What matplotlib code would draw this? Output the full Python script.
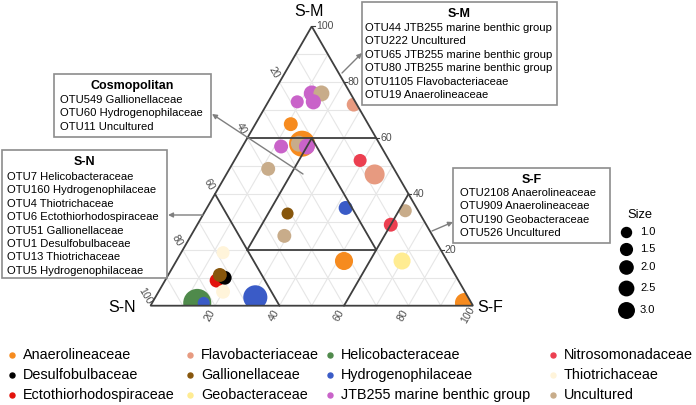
import numpy as np
import matplotlib
matplotlib.use('Agg')
import matplotlib.pyplot as plt
from matplotlib.patches import Polygon, Rectangle, FancyArrowPatch
from matplotlib.lines import Line2D

plt.rcParams['font.family'] = ['Liberation Sans', 'DejaVu Sans']

W, H = 696, 405

# ---- data: OTU positions in the S-N / S-M / S-F space (percent) ----
family = ['JTB255 marine benthic group', 'Uncultured', 'JTB255 marine benthic group',
          'JTB255 marine benthic group', 'Flavobacteriaceae', 'Anaerolineaceae',
          'Anaerolineaceae', 'Uncultured', 'JTB255 marine benthic group',
          'JTB255 marine benthic group', 'Uncultured', 'Nitrosomonadaceae',
          'Flavobacteriaceae', 'Hydrogenophilaceae', 'Uncultured', 'Gallionellaceae',
          'Nitrosomonadaceae', 'Uncultured', 'Anaerolineaceae', 'Geobacteraceae',
          'Thiotrichaceae', 'Ectothiorhodospiraceae', 'Desulfobulbaceae',
          'Gallionellaceae', 'Thiotrichaceae', 'Helicobacteraceae',
          'Hydrogenophilaceae', 'Hydrogenophilaceae', 'Anaerolineaceae']
s_n = [12, 9, 18, 13, 1, 24, 24, 25, 23, 31, 39, 9, 7, 22, 4, 41, 11, 46, 32, 14,
       68, 75, 72, 73, 75, 85, 83, 66, 2]
s_m = [76, 76, 73, 73, 72, 65, 58, 58, 57, 57, 49, 52, 47, 35, 34, 33, 29, 25, 16, 16,
       19, 9, 10, 11, 5, 1, 1, 3, 1]
s_f = [12, 15, 9, 14, 27, 11, 18, 17, 20, 12, 12, 39, 46, 43, 62, 26, 60, 29, 52, 70,
       13, 16, 18, 16, 20, 14, 16, 31, 97]
size = [2.1, 2.1, 1.4, 1.9, 1.6, 1.6, 5.6, 2.1, 2.1, 1.6, 1.6, 1.4, 3.3, 1.6, 1.4, 1.2,
        1.6, 1.6, 2.7, 2.4, 1.4, 1.6, 1.6, 1.6, 1.6, 6.5, 1.2, 4.8, 3.3]

families = ['Anaerolineaceae', 'Desulfobulbaceae', 'Ectothiorhodospiraceae',
            'Flavobacteriaceae', 'Gallionellaceae', 'Geobacteraceae',
            'Helicobacteraceae', 'Hydrogenophilaceae', 'JTB255 marine benthic group',
            'Nitrosomonadaceae', 'Thiotrichaceae', 'Uncultured']
fam_colors = ['#F68B1F', '#000000', '#E3120B', '#E79A80', '#87560C', '#FFEC92',
              '#4F8A4B', '#3A5BC7', '#C963C9', '#EC3F50', '#FFF4DA', '#C8AC8A']
size_breaks = [1.0, 1.5, 2.0, 2.5, 3.0]
tick_vals = [20, 40, 60, 80, 100]

box_cosmo = ['OTU549 Gallionellaceae', 'OTU60 Hydrogenophilaceae', 'OTU11 Uncultured']
box_sn = ['OTU7 Helicobacteraceae', 'OTU160 Hydrogenophilaceae', 'OTU4 Thiotrichaceae',
          'OTU6 Ectothiorhodospiraceae', 'OTU51 Gallionellaceae', 'OTU1 Desulfobulbaceae',
          'OTU13 Thiotrichaceae', 'OTU5 Hydrogenophilaceae']
box_sm = ['OTU44 JTB255 marine benthic group', 'OTU222 Uncultured',
          'OTU65 JTB255 marine benthic group', 'OTU80 JTB255 marine benthic group',
          'OTU1105 Flavobacteriaceae', 'OTU19 Anaerolineaceae']
box_sf = ['OTU2108 Anaerolineaceae', 'OTU909 Anaerolineaceae', 'OTU190 Geobacteraceae',
          'OTU526 Uncultured']


def tern(n, m, f):
    n, m, f = (np.asarray(v, dtype=float) for v in (n, m, f))
    tot = n + m + f
    return (f + m / 2.) / tot, (m / tot) * np.sqrt(3) / 2.


def fpx(x, y):
    # pixel position -> figure fraction
    return x / W, 1 - y / H


def px2pt(d):
    return d * 72. / 100.


fig = plt.figure(figsize=(W / 100., H / 100.), dpi=100)
ax = fig.add_axes([0, 0, 1, 1])
U, X0, Y0 = 322.5, 150.5, 305.7
ax.set_xlim(-X0 / U, (W - X0) / U)
ax.set_ylim(-(H - Y0) / U, Y0 / U)
ax.axis('off')

# grid
gcol = '#E6E6E6'
for v in np.arange(0.1, 1.0, 0.1):
    for a, b in [((1 - v, v, 0), (0, v, 1 - v)),
                 ((1 - v, 0, v), (0, 1 - v, v)),
                 ((v, 1 - v, 0), (v, 0, 1 - v))]:
        xs, ys = tern(*zip(a, b))
        ax.plot(xs, ys, color=gcol, lw=0.8, zorder=1)

tri = Polygon(np.column_stack(tern([1, 0, 0], [0, 1, 0], [0, 0, 1])), closed=True,
              fill=False, ec='#3F3F3F', lw=1.3, zorder=5)
ax.add_patch(tri)

# points
cmap = dict(zip(families, fam_colors))
px_, py_ = tern(s_n, s_m, s_f)
sz = np.array([(px2pt(11 * np.sqrt(s))) ** 2 for s in size])
sc = ax.scatter(px_, py_, s=sz, c=[cmap[f] for f in family], linewidths=0, zorder=3)
sc.set_clip_path(tri)

# region boundaries
segs = [((0.4, 0.6, 0), (0, 0.6, 0.4)), ((0.6, 0.4, 0), (0.6, 0, 0.4)),
        ((0, 0.4, 0.6), (0.4, 0, 0.6)), ((0.2, 0.6, 0.2), (0.6, 0.2, 0.2)),
        ((0.2, 0.6, 0.2), (0.2, 0.2, 0.6)), ((0.6, 0.2, 0.2), (0.2, 0.2, 0.6))]
for a, b in segs:
    xs, ys = tern(*zip(a, b))
    ax.plot(xs, ys, color='#3F3F3F', lw=1.3, zorder=4, solid_capstyle='round')

# tick labels
tcol = '#4D4D4D'
off = 11 / U
for v in tick_vals:
    x, y = tern(v, 100 - v, 0)
    ax.text(x - 0.5 * off, y + 0.866 * off, str(v), rotation=-60, ha='center',
            va='center', fontsize=7.6, color=tcol, rotation_mode='anchor')
    x, y = tern(100 - v, 0, v)
    ax.text(x - 0.5 * off, y - 0.866 * off, str(v), rotation=60, ha='center',
            va='center', fontsize=7.6, color=tcol, rotation_mode='anchor')
    x, y = tern(0, v, 100 - v)
    ax.plot([x, x + 3 / U], [y, y], color='#3F3F3F', lw=0.8)
    ax.text(x + 4 / U, y, str(v), ha='left', va='center', fontsize=7.6, color=tcol)

# axis titles
fig.text(*fpx(309, 12), 'S-M', ha='center', va='center', fontsize=11.5)
fig.text(*fpx(136, 307), 'S-N', ha='right', va='center', fontsize=11.5)
fig.text(*fpx(477, 307), 'S-F', ha='left', va='center', fontsize=11.5)


def textbox(x0, y0, x1, y1, title, lines, ty, ly, tx):
    fig.add_artist(Rectangle(fpx(x0, y1), (x1 - x0) / W, (y1 - y0) / H,
                             transform=fig.transFigure, fill=False, ec='#8C8C8C', lw=1.2))
    fig.text(*fpx((x0 + x1) / 2., ty), title, ha='center', va='center',
             fontsize=9, fontweight='bold')
    for i, t in enumerate(lines):
        fig.text(*fpx(tx, ly + i * 13.4), t, ha='left', va='center', fontsize=8.1)


def arrow(p0, p1):
    fig.add_artist(FancyArrowPatch(fpx(*p0), fpx(*p1), transform=fig.transFigure,
                                   arrowstyle='-|>', mutation_scale=7, color='#7F7F7F',
                                   lw=1.0, shrinkA=0, shrinkB=0))


textbox(54, 74, 211, 137, 'Cosmopolitan', box_cosmo, 86, 100, 60)
textbox(2, 150, 167, 278, 'S-N', box_sn, 162, 177, 7)
textbox(362, 2, 557, 105, 'S-M', box_sm, 14, 28, 365)
textbox(453, 168, 610, 243, 'S-F', box_sf, 180, 193, 460)
arrow((303, 174), (212, 114))
arrow((203, 215), (168, 215))
arrow((342, 73), (362, 53))
arrow((432, 231), (453, 222))

# size legend
fig.text(*fpx(640, 215), 'Size', ha='center', va='center', fontsize=9.3)
for s, yy in zip(size_breaks, [232, 249, 267, 288, 310]):
    fig.add_artist(Line2D([626 / W], [1 - yy / H], transform=fig.transFigure,
                          marker='o', ms=px2pt(10 * s ** 0.4), color='black', lw=0))
    fig.text(*fpx(640, yy), '%.1f' % s, ha='left', va='center', fontsize=8)

# family legend, 4 columns filled top to bottom
col_x = [12, 190, 330, 553]
row_y = [355, 375, 395]
for i, (name, c) in enumerate(zip(families, fam_colors)):
    mx, my = col_x[i // 3], row_y[i % 3]
    fig.add_artist(Line2D([mx / W], [1 - my / H], transform=fig.transFigure,
                          marker='o', ms=3.6, color=c, lw=0))
    fig.text(*fpx(mx + 11, my), name, ha='left', va='center', fontsize=10.4)

fig.savefig('out.png', dpi=100)
